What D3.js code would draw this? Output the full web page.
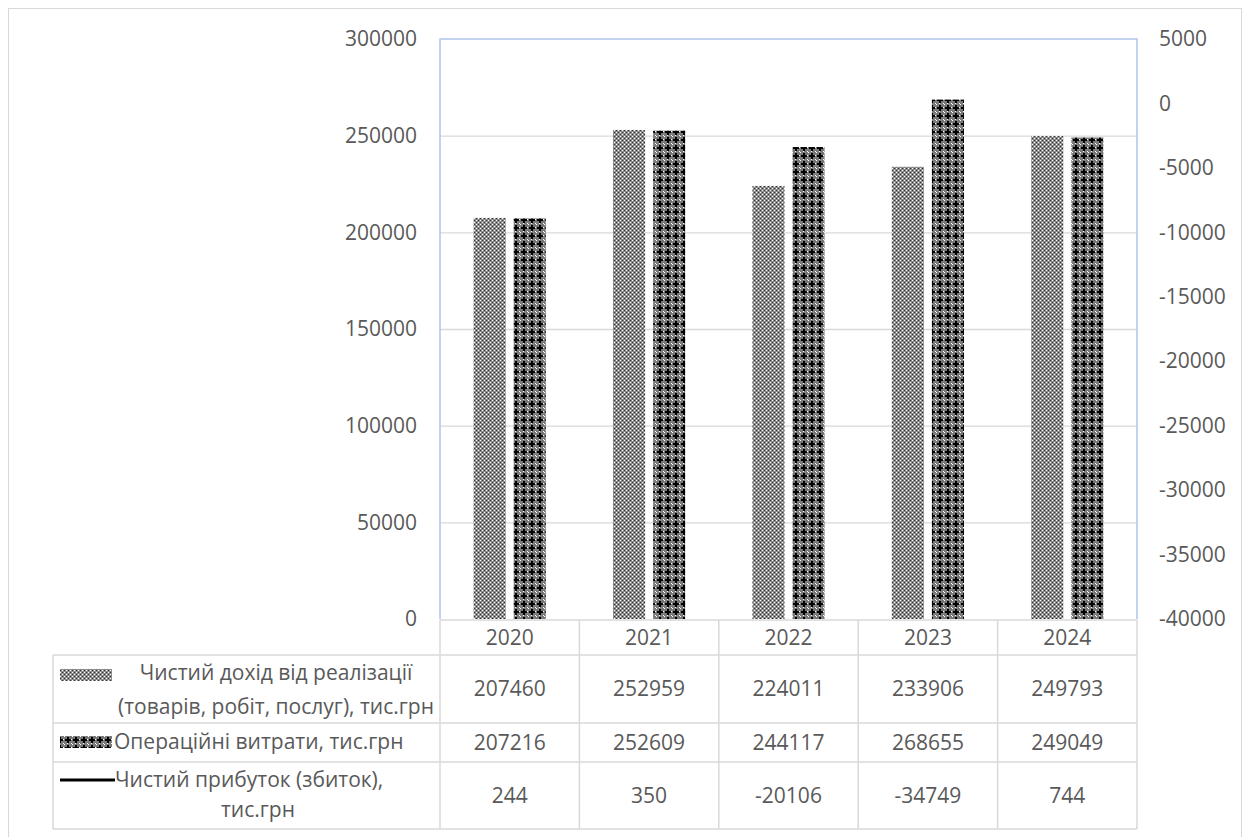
<!DOCTYPE html>
<html>
<head>
<meta charset="utf-8">
<script src="https://cdn.jsdelivr.net/npm/d3@7"></script>
<style>
  body { margin: 0; background: #fff; }
  text { font-family: "Open Sans", sans-serif; font-size: 21px; fill: #595959; }
</style>
</head>
<body>
<svg id="chart" width="1247" height="837"></svg>
<script>
var years = ['2020', '2021', '2022', '2023', '2024'];
var revenue = [207460, 252959, 224011, 233906, 249793];
var opex = [207216, 252609, 244117, 268655, 249049];
var profit = [244, 350, -20106, -34749, 744];
var leftTicks = [0, 50000, 100000, 150000, 200000, 250000, 300000];
var rightTicks = [-40000, -35000, -30000, -25000, -20000, -15000, -10000, -5000, 0, 5000];
var legendLines = [
  ['Чистий дохід від реалізації', '(товарів, робіт, послуг), тис.грн'],
  ['Операційні витрати, тис.грн'],
  ['Чистий прибуток (збиток),', 'тис.грн']
];

var svg = d3.select('#chart');
var plotLeft = 440, plotRight = 1137, plotTop = 39, plotBottom = 619;

var x = d3.scaleBand().domain(years).range([plotLeft, plotRight]);
var y = d3.scaleLinear().domain([0, 300000]).range([plotBottom, plotTop]);
var y2 = d3.scaleLinear().domain([-40000, 5000]).range([plotBottom, plotTop]);

// outer chart frame
svg.append('rect')
  .attr('x', 8.5).attr('y', 8.5)
  .attr('width', 1233).attr('height', 860)
  .attr('fill', 'none')
  .attr('stroke', '#d9d9d9');

// fill patterns for the bars
var defs = svg.append('defs');
var p1 = defs.append('pattern').attr('id', 'pat1')
  .attr('patternUnits', 'userSpaceOnUse').attr('width', 4).attr('height', 4);
p1.append('rect').attr('width', 4).attr('height', 4).attr('fill', '#8c8c8c');
[[0, 0, '#fff'], [2, 2, '#fff'], [2, 0, '#333'], [0, 2, '#333']].forEach(function (d) {
  p1.append('rect').attr('x', d[0]).attr('y', d[1]).attr('width', 1).attr('height', 1).attr('fill', d[2]);
});

var p2 = defs.append('pattern').attr('id', 'pat2')
  .attr('patternUnits', 'userSpaceOnUse').attr('width', 8).attr('height', 8);
p2.append('rect').attr('width', 8).attr('height', 8).attr('fill', '#7a7a7a');
p2.append('rect').attr('x', 3).attr('y', 1).attr('width', 2).attr('height', 6).attr('fill', '#000');
p2.append('rect').attr('x', 1).attr('y', 3).attr('width', 6).attr('height', 2).attr('fill', '#000');
[[0, 0], [7, 7], [3, 7], [7, 3]].forEach(function (d) {
  p2.append('rect').attr('x', d[0]).attr('y', d[1]).attr('width', 1).attr('height', 1).attr('fill', '#fff');
});

// gridlines
var grid = svg.append('g')
  .attr('transform', 'translate(' + plotLeft + ',0)')
  .call(d3.axisLeft(y).tickValues([50000, 100000, 150000, 200000, 250000])
    .tickSize(-(plotRight - plotLeft)).tickFormat(''));
grid.select('.domain').remove();
grid.selectAll('line').attr('stroke', '#d9d9d9').attr('stroke-width', 1.3);

// bars
var barW = x.bandwidth() * 0.23;
var gap = barW * 0.25;
var series = [
  { values: revenue, fill: 'url(#pat1)', off: -gap / 2 - barW },
  { values: opex, fill: 'url(#pat2)', off: gap / 2 }
];
series.forEach(function (s) {
  svg.append('g').selectAll('rect')
    .data(s.values)
    .join('rect')
      .attr('x', function (d, i) { return x(years[i]) + x.bandwidth() / 2 + s.off; })
      .attr('y', function (d) { return y(d); })
      .attr('width', barW)
      .attr('height', function (d) { return y(0) - y(d); })
      .attr('fill', s.fill);
});

// plot area border (left, top, right)
svg.append('path')
  .attr('d', 'M' + plotLeft + ',' + plotBottom + 'V' + plotTop + 'H' + plotRight + 'V' + plotBottom)
  .attr('fill', 'none')
  .attr('stroke', '#adc5e8')
  .attr('stroke-width', 1.5);

// axes
var gl = svg.append('g')
  .attr('transform', 'translate(' + plotLeft + ',0)')
  .call(d3.axisLeft(y).tickValues(leftTicks).tickSize(0).tickPadding(23).tickFormat(d3.format('d')));
gl.select('.domain').remove();

var gr = svg.append('g')
  .attr('transform', 'translate(' + plotRight + ',0)')
  .call(d3.axisRight(y2).tickValues(rightTicks).tickSize(0).tickPadding(22).tickFormat(function (d) { return String(d); }));
gr.select('.domain').remove();

// data table
var rowY = [620, 655, 723, 762, 829];
var tableLeft = 53;
var lines = svg.append('g').attr('stroke', '#d9d9d9').attr('stroke-width', 1.5);
lines.append('line').attr('x1', plotLeft).attr('x2', plotRight).attr('y1', rowY[0]).attr('y2', rowY[0]);
rowY.slice(1).forEach(function (ry) {
  lines.append('line').attr('x1', tableLeft).attr('x2', plotRight).attr('y1', ry).attr('y2', ry);
});
lines.append('line').attr('x1', tableLeft).attr('x2', tableLeft).attr('y1', rowY[1]).attr('y2', rowY[4]);
years.map(function (yr) { return x(yr); }).concat([plotRight]).forEach(function (cx) {
  lines.append('line').attr('x1', cx).attr('x2', cx).attr('y1', rowY[0]).attr('y2', rowY[4]);
});

var rows = [years, revenue, opex, profit];
rows.forEach(function (vals, r) {
  var cy = (rowY[r] + rowY[r + 1]) / 2;
  svg.append('g').selectAll('text')
    .data(vals)
    .join('text')
      .attr('x', function (d, i) { return x(years[i]) + x.bandwidth() / 2; })
      .attr('y', cy)
      .attr('dy', '0.35em')
      .attr('text-anchor', 'middle')
      .text(function (d) { return String(d); });
});

// legend keys and names
svg.append('rect').attr('x', 60).attr('y', 669).attr('width', 52).attr('height', 12).attr('fill', 'url(#pat1)');
svg.append('rect').attr('x', 60).attr('y', 736).attr('width', 52).attr('height', 12).attr('fill', 'url(#pat2)');
svg.append('line').attr('x1', 60).attr('x2', 115).attr('y1', 780).attr('y2', 780)
  .attr('stroke', '#000').attr('stroke-width', 3);

var legendPos = [
  [[276, 673, 'middle'], [276, 707, 'middle']],
  [[114, 742, 'start']],
  [[115, 780, 'start'], [258, 810, 'middle']]
];
legendLines.forEach(function (ls, r) {
  ls.forEach(function (t, k) {
    var p = legendPos[r][k];
    svg.append('text')
      .attr('x', p[0]).attr('y', p[1])
      .attr('dy', '0.35em')
      .attr('text-anchor', p[2])
      .text(t);
  });
});
</script>
</body>
</html>
